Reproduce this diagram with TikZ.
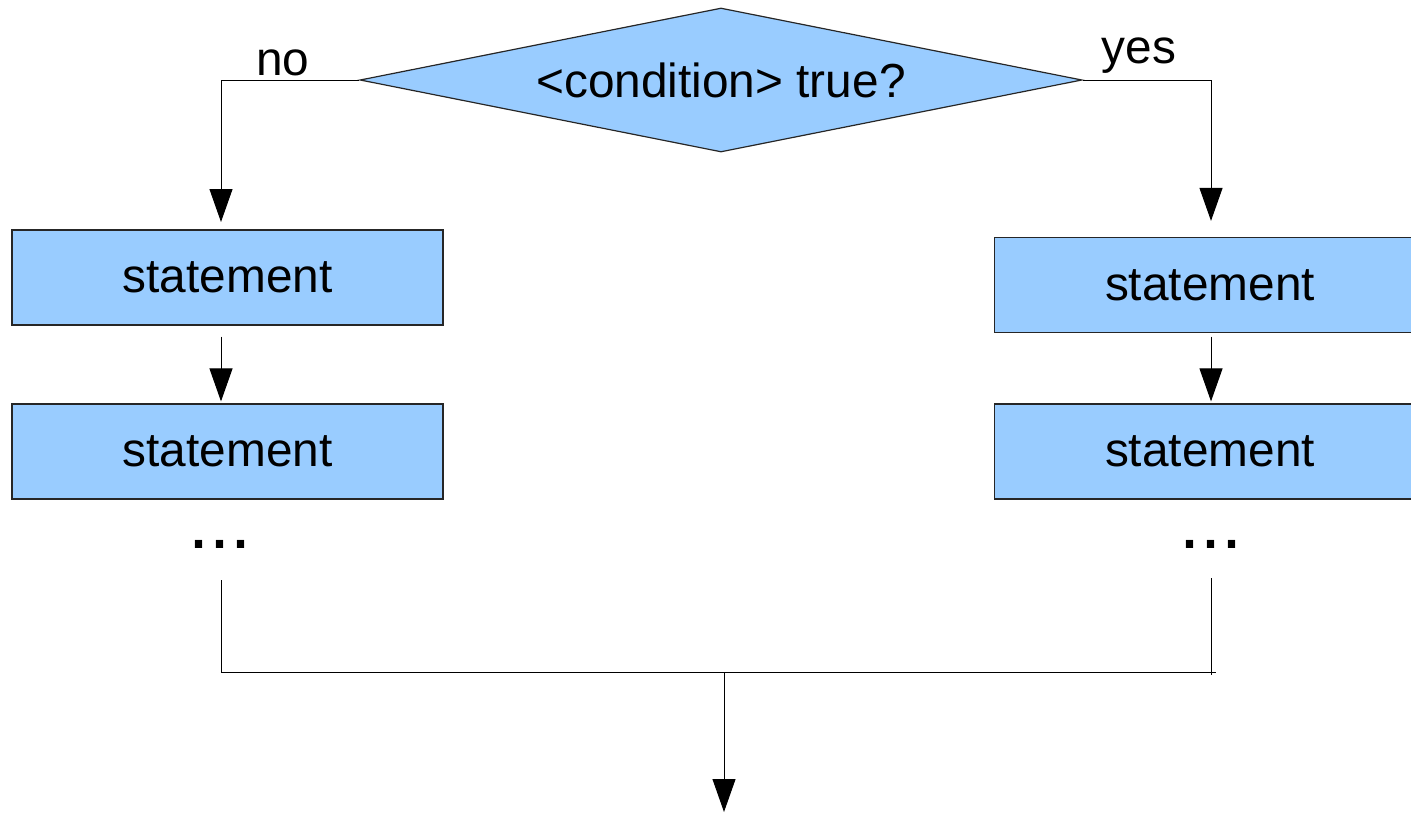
\documentclass[tikz,border=0pt]{standalone}
\usepackage{fontspec}
\setmainfont{Liberation Sans}
\usetikzlibrary{shapes.geometric,arrows.meta}
\definecolor{boxblue}{HTML}{99CCFF}

\begin{document}
\begin{tikzpicture}[x=0.5pt,y=-0.5pt,
  every node/.style={font=\fontsize{23.9}{28}\selectfont},
  stmt/.style={rectangle,draw=black!85,line width=0.6pt,fill=boxblue,
    minimum width=215.5pt,minimum height=47.5pt,inner sep=0pt},
  cond/.style={diamond,draw=black!85,line width=0.6pt,fill=boxblue,aspect=5,
    minimum width=361pt,minimum height=72pt,inner sep=0pt},
  lbl/.style={anchor=base,inner sep=0pt},
  dots/.style={lbl,font=\fontsize{37.8}{40}\selectfont},
  flow/.style={line width=0.5pt},
  arr/.style={flow,-{Triangle[length=16.5pt,width=11.5pt]}}]

  \useasboundingbox (0,0) rectangle (1411,814);

  % test and branch labels
  \node[cond] (test) at (721,80) {<condition> true?};
  \node[lbl] (no) at (283,75) {no};
  \node[lbl] (yes) at (1139,63) {yes};

  % both branches
  \node[stmt] (left1) at (227.5,277.5) {statement};
  \node[stmt] (left2) at (227.5,451.5) {statement};
  \node[stmt] (right1) at (1210,285) {statement};
  \node[stmt] (right2) at (1210,451.5) {statement};
  \node[dots] (ldots) at (220,548) {...};
  \node[dots] (rdots) at (1210.5,548) {...};

  \coordinate (lturn) at (221,80);
  \coordinate (rturn) at (1211,80);
  \coordinate (lend) at (221,672);
  \coordinate (rend) at (1211,672);
  \coordinate (merge) at (724,672);
  \coordinate (exit) at (724,812);

  \draw[arr,shorten >=3.7pt] (test.west) -| (lturn |- left1.north);
  \draw[arr,shorten >=8pt] (test.east) -| (rturn |- right1.north);
  \draw[arr,shorten <=5.5pt,shorten >=1pt] (lturn |- left1.south) -- (lturn |- left2.north);
  \draw[arr,shorten <=1.75pt,shorten >=1pt] (rturn |- right1.south) -- (rturn |- right2.north);

  % join
  \draw[flow,shorten <=16pt] (ldots.south -| lend) -- (lend) -- ([xshift=2.5pt]rend);
  \draw[flow,shorten <=15pt,shorten >=-1.5pt] (rdots.south -| rend) -- (rend);
  \draw[arr] (merge) -- (exit);
\end{tikzpicture}
\end{document}
